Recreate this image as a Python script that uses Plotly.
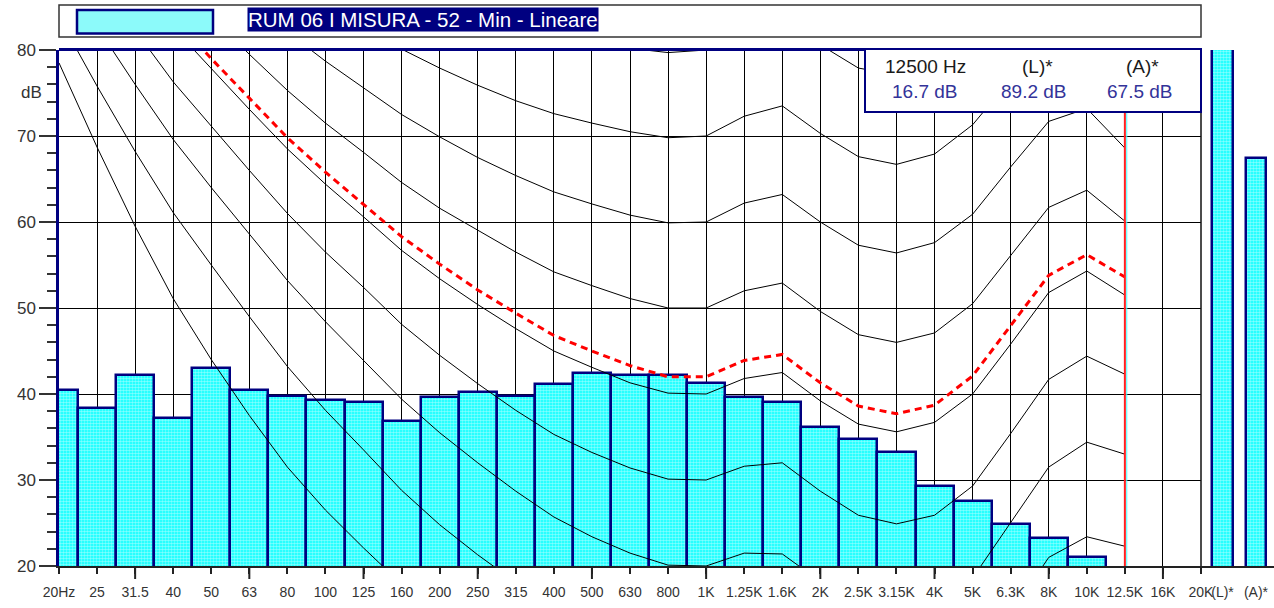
import plotly.graph_objects as go

# ---------------- data ----------------
bands = ["20Hz", "25", "31.5", "40", "50", "63", "80", "100", "125", "160", "200", "250",
         "315", "400", "500", "630", "800", "1K", "1.25K", "1.6K", "2K", "2.5K", "3.15K",
         "4K", "5K", "6.3K", "8K", "10K", "12.5K", "16K", "20K"]
levels = [40.5, 38.4, 42.2, 37.2, 43.0, 40.5, 39.8, 39.3, 39.1, 36.9, 39.7, 40.2,
          39.8, 41.2, 42.4, 42.2, 42.2, 41.3, 39.7, 39.1, 36.2, 34.8, 33.3,
          29.3, 27.6, 24.9, 23.3, 21.0, 16.7, None, None]
total_labels = ["(L)*", "(A)*"]
total_values = [89.2, 67.5]

series_name = "RUM 06 I MISURA - 52 - Min - Lineare"
cursor_band = "12.5K"
cursor_text = "12500 Hz"
octave_bands = ["31.5", "63", "125", "250", "500", "1K", "2K", "4K", "8K", "16K"]

# equal-loudness contours (20 Hz .. 12.5 kHz)
contour_bands = bands[:29]
phon0 = [78.5, 68.7, 59.5, 51.1, 44.0, 37.5, 31.5, 26.5, 22.1, 17.9, 14.4, 11.4, 8.6, 6.2, 4.4,
         3.0, 2.2, 2.4, 3.5, 1.7, -1.3, -4.2, -6.0, -5.4, -1.5, 6.0, 12.6, 13.9, 12.3]
phon10 = [83.8, 75.8, 68.2, 61.1, 55.0, 49.0, 43.2, 38.1, 33.5, 28.8, 24.8, 21.3, 18.1, 15.1, 13.0,
          11.2, 10.0, 10.0, 11.3, 10.4, 7.3, 4.5, 3.0, 3.8, 7.5, 14.4, 21.0, 23.4, 22.3]
phon20 = [89.6, 82.7, 76.0, 69.6, 64.0, 58.6, 53.2, 48.4, 43.9, 39.4, 35.5, 32.0, 28.7, 25.7, 23.4,
          21.5, 20.1, 20.0, 21.5, 21.4, 18.2, 15.4, 14.3, 15.1, 18.6, 25.0, 31.5, 34.4, 33.0]
phon30 = [94.9, 88.5, 82.3, 76.3, 71.1, 66.0, 61.0, 56.5, 52.4, 48.1, 44.5, 41.2, 38.1, 35.3, 33.2,
          31.4, 30.1, 30.0, 31.6, 32.0, 28.7, 25.9, 24.9, 25.9, 29.3, 35.4, 41.7, 44.4, 42.3]
phon40 = [99.9, 93.9, 88.2, 82.6, 77.8, 73.1, 68.5, 64.4, 60.6, 56.7, 53.4, 50.4, 47.6, 45.0, 43.1,
          41.3, 40.1, 40.0, 41.8, 42.5, 39.2, 36.5, 35.6, 36.7, 40.0, 45.8, 51.8, 54.3, 51.5]
phon50 = [104.7, 99.1, 93.6, 88.4, 83.9, 79.5, 75.3, 71.5, 68.1, 64.6, 61.6, 59.0, 56.5, 54.2, 52.6,
          51.1, 50.0, 50.0, 52.0, 52.9, 49.6, 46.9, 46.0, 47.1, 50.5, 56.1, 61.7, 63.7, 60.1]
phon60 = [109.5, 104.2, 99.1, 94.2, 90.0, 85.9, 82.1, 78.7, 75.6, 72.5, 69.9, 67.5, 65.4, 63.5, 62.1,
          60.8, 59.9, 60.0, 62.2, 63.2, 60.0, 57.3, 56.4, 57.6, 60.9, 66.4, 71.7, 73.2, 68.6]
phon70 = [114.3, 109.2, 104.4, 99.8, 95.8, 92.2, 88.6, 85.6, 82.8, 80.1, 77.9, 75.9, 74.1, 72.6, 71.5,
          70.5, 69.8, 70.0, 72.3, 73.5, 70.3, 67.6, 66.7, 67.9, 71.3, 76.6, 81.5, 82.5, 77.0]
phon80 = [119.0, 114.2, 109.7, 105.3, 101.7, 98.4, 95.2, 92.5, 90.1, 87.8, 85.9, 84.3, 82.9, 81.7, 80.9,
          80.2, 79.7, 80.0, 82.5, 83.7, 80.6, 77.9, 77.1, 78.3, 81.6, 86.8, 91.4, 91.7, 85.4]
contours = [phon0, phon10, phon20, phon30, phon40, phon50, phon60, phon70, phon80]
# red dashed contour (spectrum loudness contour)
red_contour = [None, None, None, 83.8, 79.0, 74.4, 69.8, 65.8, 62.1, 58.3, 55.1, 52.1, 49.4, 46.8, 45.0,
               43.3, 42.0, 42.0, 43.9, 44.6, 41.3, 38.6, 37.7, 38.7, 42.1, 47.9, 53.8, 56.2, 53.6]

# ---------------- geometry helpers (pixels -> paper) ----------------
W, H = 1274, 608
ML, MT, MB = 59, 50, 42
PW, PH = W - ML, H - MT - MB
PLOT_RIGHT = 1201
D = (PLOT_RIGHT - ML) / PW


def px(x):
    return (x - ML) / PW


def py(y):
    return (H - MB - y) / PH


NAVY = "#000080"
BAR_FILL = "#00FFFF"
FONT = "Liberation Sans, Arial, sans-serif"

idx = list(range(len(bands)))
cidx = idx[:len(contour_bands)]
tidx = list(range(len(total_labels)))

fig = go.Figure()

bar_marker = dict(color=BAR_FILL,
                  pattern=dict(shape=".", fgcolor="#FFFFFF", bgcolor=BAR_FILL, size=3, solidity=0.6),
                  line=dict(color=NAVY, width=2.5))

fig.add_trace(go.Bar(x=idx, y=levels, width=1.0, marker=bar_marker, xaxis="x", yaxis="y",
                     hoverinfo="skip"))

for c in contours:
    fig.add_trace(go.Scatter(x=cidx, y=c, mode="lines", line=dict(color="black", width=1),
                             xaxis="x", yaxis="y", hoverinfo="skip"))

fig.add_trace(go.Scatter(x=cidx, y=red_contour, mode="lines",
                         line=dict(color="#FF0000", width=3, dash="7px,5px"),
                         xaxis="x", yaxis="y", hoverinfo="skip"))

fig.add_trace(go.Bar(x=tidx, y=total_values, width=0.62, marker=bar_marker,
                     xaxis="x2", yaxis="y2", hoverinfo="skip"))

# ---------------- shapes ----------------
shapes = []
ci = bands.index(cursor_band)
# octave long ticks
for b in octave_bands:
    k = bands.index(b)
    shapes.append(dict(type="line", xref="x", yref="paper", x0=k, x1=k, y0=0, y1=-13 / PH,
                       line=dict(color="#222222", width=2)))
# cursor line
shapes.append(dict(type="line", xref="x", yref="paper", x0=ci, x1=ci, y0=0, y1=1,
                   line=dict(color="#FF2020", width=2)))
shapes.append(dict(type="line", xref="x", yref="paper", x0=ci + 0.05, x1=ci + 0.05, y0=0, y1=1,
                   line=dict(color="#40FFFF", width=1)))
# plot frame top / right
shapes.append(dict(type="line", xref="paper", yref="paper", x0=px(59), x1=px(PLOT_RIGHT),
                   y0=py(49.5), y1=py(49.5), line=dict(color=NAVY, width=3)))
shapes.append(dict(type="line", xref="paper", yref="paper", x0=px(PLOT_RIGHT), x1=px(PLOT_RIGHT),
                   y0=py(566), y1=py(50), line=dict(color="#111111", width=1.5)))
# info box
shapes.append(dict(type="rect", xref="paper", yref="paper", x0=px(865), x1=px(PLOT_RIGHT),
                   y0=py(112), y1=py(49), fillcolor="white", line=dict(color=NAVY, width=2)))
# legend box
shapes.append(dict(type="rect", xref="paper", yref="paper", x0=px(59), x1=px(PLOT_RIGHT),
                   y0=py(37), y1=py(5), fillcolor="white", line=dict(color="#333333", width=1.5)))
shapes.append(dict(type="rect", xref="paper", yref="paper", x0=px(77), x1=px(213),
                   y0=py(33.5), y1=py(10), fillcolor="#8CFAFA", line=dict(color=NAVY, width=2.5)))

# ---------------- annotations ----------------
ann = []
ann.append(dict(text=series_name, xref="paper", yref="paper", x=px(247), y=py(19.5),
                xanchor="left", yanchor="middle", showarrow=False, bgcolor=NAVY, borderpad=0,
                font=dict(family=FONT, size=20.5, color="white")))
ann.append(dict(text="dB", xref="paper", yref="paper", x=px(31), y=py(92), xanchor="center",
                yanchor="middle", showarrow=False, font=dict(family=FONT, size=17, color="#333333")))
hdr = [(cursor_text, 925), (total_labels[0], 1037), (total_labels[1], 1142)]
vals = [(f"{levels[ci]} dB", 925), (f"{total_values[0]} dB", 1034), (f"{total_values[1]} dB", 1140)]
for t, x in hdr:
    ann.append(dict(text=t, xref="paper", yref="paper", x=px(x), y=py(67), xanchor="center",
                    yanchor="middle", showarrow=False, font=dict(family=FONT, size=19, color="#1a1a1a")))
for t, x in vals:
    ann.append(dict(text=t, xref="paper", yref="paper", x=px(x), y=py(91), xanchor="center",
                    yanchor="middle", showarrow=False, font=dict(family=FONT, size=19, color="#333399")))

u = 33.5
x2_start = -(1222.5 - PLOT_RIGHT) / u
x2_end = x2_start + (W - PLOT_RIGHT) / u

fig.update_layout(
    width=W, height=H, autosize=False,
    margin=dict(l=ML, r=0, t=MT, b=MB, pad=0, autoexpand=False),
    paper_bgcolor="white", plot_bgcolor="white",
    showlegend=False, bargap=0,
    xaxis=dict(domain=[0, D], range=[0, len(bands) - 1], tickmode="array", tickvals=idx,
               ticktext=bands, tickangle=0, ticks="outside", ticklen=6, tickwidth=2,
               tickcolor="#222222", showgrid=True, gridcolor="black", gridwidth=1,
               showline=True, linecolor="#222222", linewidth=2, zeroline=False,
               tickfont=dict(family=FONT, size=14, color="#333333"), ticklabelstandoff=6,
               fixedrange=True, anchor="y", automargin=False),
    yaxis=dict(domain=[0, 1], range=[20, 80], tickmode="array", tickvals=[20, 30, 40, 50, 60, 70, 80],
               ticks="outside", ticklen=17, tickwidth=1.5, tickcolor="#333333",
               showgrid=True, gridcolor="black", gridwidth=1, zeroline=False,
               showline=True, linecolor=NAVY, linewidth=2.5,
               minor=dict(tickmode="linear", tick0=20, dtick=2, ticks="outside", ticklen=9,
                          tickwidth=1.5, tickcolor="#333333", showgrid=False),
               tickfont=dict(family=FONT, size=17, color="#333333"), fixedrange=True, anchor="x",
               automargin=False),
    xaxis2=dict(domain=[D, 1], range=[x2_start, x2_end], type="linear", anchor="y2",
                tickmode="array", tickvals=tidx, ticktext=total_labels,
                ticks="outside", ticklen=6, tickcolor="rgba(0,0,0,0)", showgrid=False,
                showline=True, linecolor="#222222", linewidth=2, zeroline=False, tickangle=0,
                tickfont=dict(family=FONT, size=14, color="#333333"), ticklabelstandoff=6,
                fixedrange=True, automargin=False),
    yaxis2=dict(domain=[0, 1], range=[20, 80], anchor="x2", visible=False, fixedrange=True),
    shapes=shapes, annotations=ann,
)

fig.write_html("out.html", config={"displayModeBar": False, "responsive": False},
               post_script="document.body.style.margin='0';document.body.style.overflow='hidden';")
